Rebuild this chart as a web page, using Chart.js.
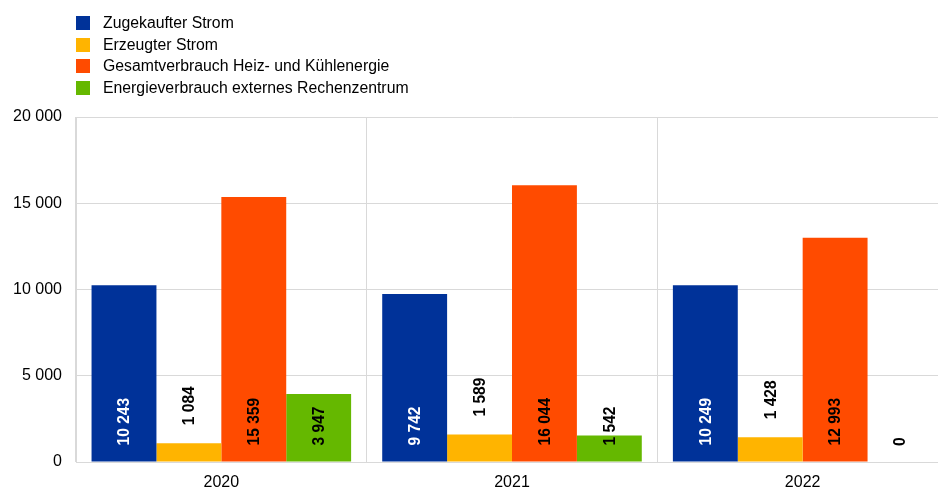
<!DOCTYPE html>
<html>
<head>
<meta charset="utf-8">
<script src="https://cdn.jsdelivr.net/npm/chart.js"></script>
<style>
  html, body { margin: 0; padding: 0; background: #fff; overflow: hidden; }
  #wrap { position: relative; width: 938px; height: 489px; overflow: hidden; }
  #chart { position: absolute; left: 0; top: 0; }
  #legend { position: absolute; left: 76px; top: 12px; font-family: "Liberation Sans", Arial, sans-serif; font-size: 15.8px; color: #000; }
  #legend div { height: 21.6px; line-height: 21.6px; white-space: nowrap; }
  #legend span.box { display: inline-block; width: 14px; height: 14px; vertical-align: -2px; margin-right: 13px; }
</style>
</head>
<body>
<div id="wrap">
  <canvas id="chart"></canvas>
  <div id="legend"></div>
</div>
<script>
// categories and series
const years = ["2020", "2021", "2022"];
const seriesNames = [
  "Zugekaufter Strom",
  "Erzeugter Strom",
  "Gesamtverbrauch Heiz- und Kühlenergie",
  "Energieverbrauch externes Rechenzentrum"
];
const zugekauft = [10243, 9742, 10249];
const erzeugt = [1084, 1589, 1428];
const heizKuehl = [15359, 16044, 12993];
const rechenzentrum = [3947, 1542, 0];
const yTicks = [0, 5000, 10000, 15000, 20000];

const colors = ["#003299", "#FFB400", "#FF4B00", "#65B800"];
const labelColors = ["#fff", "#000", "#000", "#000"];

function fmt(v) {
  return String(Math.round(v)).replace(/\B(?=(\d{3})+(?!\d))/g, " ");
}

// legend as plain html
const legendEl = document.getElementById("legend");
seriesNames.forEach((name, i) => {
  const row = document.createElement("div");
  const box = document.createElement("span");
  box.className = "box";
  box.style.background = colors[i];
  row.appendChild(box);
  row.appendChild(document.createTextNode(name));
  legendEl.appendChild(row);
});

// rotated value labels: most sit at the bar base, "Erzeugter Strom" sits above the bar
const valueLabels = {
  id: "valueLabels",
  afterDatasetsDraw(chart) {
    const ctx = chart.ctx;
    ctx.save();
    ctx.font = "bold 15.6px 'Liberation Sans', Arial, sans-serif";
    ctx.textBaseline = "middle";
    ctx.textAlign = "left";
    chart.data.datasets.forEach((ds, di) => {
      const meta = chart.getDatasetMeta(di);
      meta.data.forEach((bar, i) => {
        const v = ds.data[i];
        const start = di === 1 ? bar.y - 18 : bar.base - 16;
        ctx.save();
        ctx.translate(bar.x + 1, start);
        ctx.rotate(-Math.PI / 2);
        ctx.fillStyle = labelColors[di];
        ctx.fillText(fmt(v), 0, 0);
        ctx.restore();
      });
    });
    ctx.restore();
  }
};

const canvas = document.getElementById("chart");
canvas.width = 948;
canvas.height = 489;
canvas.style.width = "948px";
canvas.style.height = "489px";

new Chart(canvas.getContext("2d"), {
  type: "bar",
  data: {
    labels: years,
    datasets: [zugekauft, erzeugt, heizKuehl, rechenzentrum].map((d, i) => ({
      label: seriesNames[i],
      data: d,
      backgroundColor: colors[i],
      borderWidth: 0,
      categoryPercentage: 0.893,
      barPercentage: 1
    }))
  },
  options: {
    responsive: false,
    animation: false,
    devicePixelRatio: 1,
    layout: { padding: { top: 117, left: 0, right: 0, bottom: 0 } },
    plugins: {
      legend: { display: false },
      tooltip: { enabled: false }
    },
    scales: {
      x: {
        grid: { offset: true, color: "#d9d9d9", drawTicks: false },
        border: { color: "#d9d9d9" },
        ticks: {
          color: "#000",
          padding: 11,
          font: { family: "'Liberation Sans', Arial, sans-serif", size: 16 }
        },
        afterFit(scale) { scale.height = 27; }
      },
      y: {
        min: 0,
        max: 20000,
        afterBuildTicks(scale) { scale.ticks = yTicks.map(v => ({ value: v })); },
        grid: { color: "#d9d9d9", drawTicks: false },
        border: { color: "#d9d9d9" },
        ticks: {
          color: "#000",
          padding: 14,
          font: { family: "'Liberation Sans', Arial, sans-serif", size: 16 },
          callback: v => fmt(v)
        },
        afterFit(scale) { scale.width = 76; }
      }
    }
  },
  plugins: [valueLabels]
});
</script>
</body>
</html>
